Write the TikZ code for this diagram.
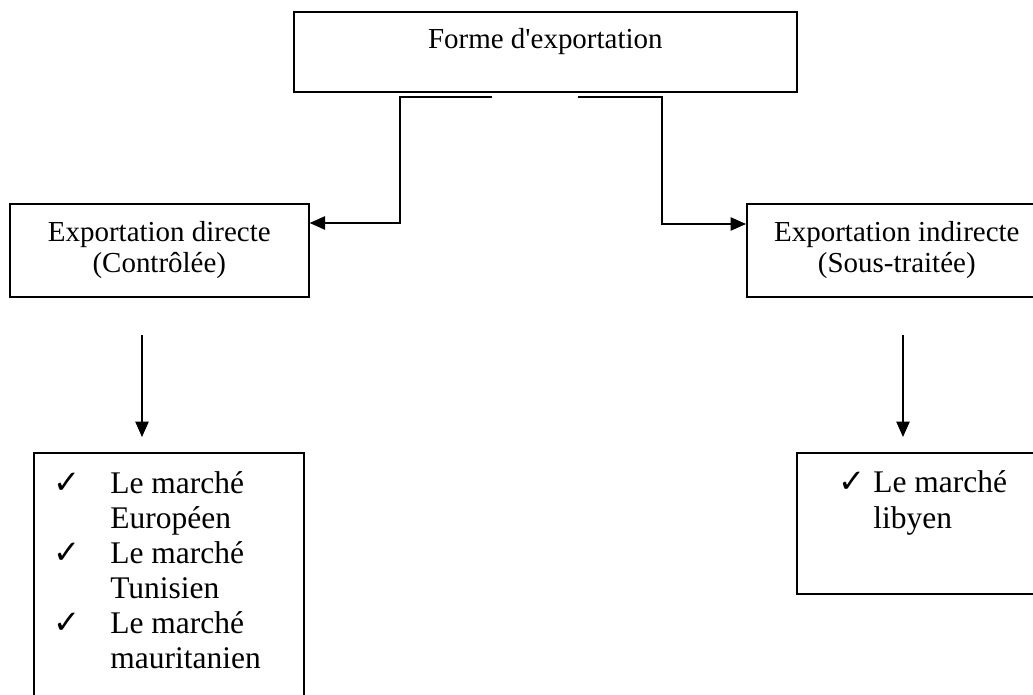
\documentclass[tikz,border=0pt]{standalone}
\usepackage{fontspec}
\setmainfont{Liberation Serif}
\newfontfamily\symfont{DejaVu Sans}
\usepackage{tikz}
\usetikzlibrary{arrows.meta,positioning,calc}
\newcommand{\coche}{{\symfont\fontsize{23pt}{23pt}\selectfont ✓}}

\begin{document}
\begin{tikzpicture}[
    x=0.025cm, y=-0.025cm,
    box/.style={rectangle, draw, line width=1.1pt, inner sep=0pt, anchor=north west},
    sidebox/.style={box, minimum width=7.5cm, minimum height=2.325cm, align=center, font=\fontsize{20.6pt}{22.3pt}\selectfont},
    listtext/.style={inner sep=0pt, anchor=base west, font=\fontsize{22.4pt}{25pt}\selectfont},
    arr/.style={-{Triangle[length=11pt,width=9.5pt]}, line width=1.1pt}
]
    \clip (0,0) rectangle (1033,695);

    \node[box, minimum width=12.575cm, text height=0.925cm, text depth=1.075cm, font=\fontsize{20.6pt}{22.3pt}\selectfont] (forme) at (293,11) {Forme d\textquotesingle exportation};
    \node[sidebox, minimum width=7.475cm] (dir) at (9,203) {Exportation directe\\(Contrôlée)};
    \node[sidebox] (indir) at (746,203) {Exportation indirecte\\(Sous-traitée)};

    \node[box, minimum width=6.75cm, minimum height=7.5cm] (mdir) at (33,452) {};
    \node[box, minimum width=6.25cm, minimum height=3.525cm] (mindir) at (796,452) {};

    \node[listtext] (mdirtxt) at ($(mdir.north west)+(20,41)$) {%
        \begin{tabular}[t]{@{}p{1.425cm}@{}l@{}}
            \coche & Le marché\\
                   & Européen\\
            \coche & Le marché\\
                   & Tunisien\\
            \coche & Le marché\\
                   & mauritanien
        \end{tabular}};
    \node[listtext, font=\fontsize{22.4pt}{26.3pt}\selectfont] (mindirtxt) at ($(mindir.north west)+(42,40)$) {%
        \begin{tabular}[t]{@{}p{0.875cm}@{}l@{}}
            \coche & Le marché\\
                   & libyen
        \end{tabular}};

    \coordinate (fl) at (492,97);
    \coordinate (fr) at (578,97);
    \coordinate (dl) at (400,223);
    \coordinate (dr) at (662,224);
    \draw[arr] (fl) -| (dl) -- (dl -| dir.east);
    \draw[arr] (fr) -| (dr) -- (dr -| indir.west);

    \coordinate (ddir) at (142,335);
    \coordinate (dindir) at (903,335);
    \draw[arr] (ddir) -- ++(0,102);
    \draw[arr] (dindir) -- ++(0,102);
\end{tikzpicture}
\end{document}
